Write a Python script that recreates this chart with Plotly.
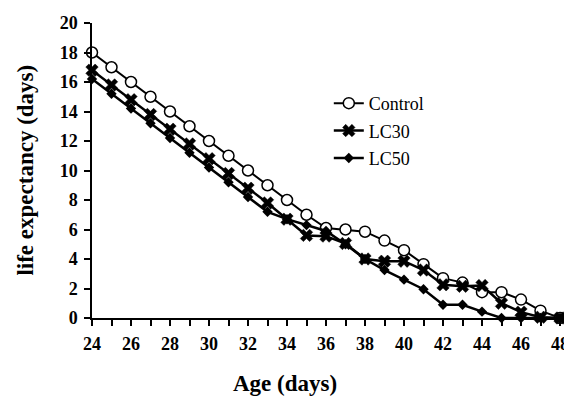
import plotly.graph_objects as go

days = list(range(24, 49))
control = [18, 17, 16, 15, 14, 13, 12, 11, 10, 9, 8, 7, 6.1, 6.0, 5.85, 5.25, 4.6, 3.65, 2.7, 2.4, 1.75, 1.75, 1.25, 0.5, 0]
lc30 = [16.8, 15.8, 14.8, 13.8, 12.8, 11.8, 10.8, 9.8, 8.8, 7.8, 6.7, 5.6, 5.55, 5.05, 4.0, 3.85, 3.85, 3.25, 2.25, 2.15, 2.2, 1.0, 0.4, 0.05, 0]
lc50 = [16.2, 15.2, 14.2, 13.2, 12.2, 11.2, 10.2, 9.2, 8.2, 7.2, 6.7, 6.3, 5.9, 5.0, 4.0, 3.25, 2.6, 1.95, 0.9, 0.9, 0.43, 0, 0, 0, 0]

x_ticks = list(range(24, 49, 2))
y_ticks = list(range(0, 21, 2))
x_labels = [f"<b>{v}</b>" for v in x_ticks]
y_labels = [f"<b>{v}</b>" for v in y_ticks]

FONT = "Times New Roman"

fig = go.Figure()
fig.add_trace(go.Scatter(
    x=days, y=control, name="Control", mode="lines+markers", legendgroup="a",
    line=dict(color="black", width=2),
    marker=dict(symbol="circle", size=11, color="white", line=dict(color="black", width=1.5)),
    cliponaxis=False))
fig.add_trace(go.Scatter(
    x=days, y=lc30, name="LC30", mode="lines+markers", legendgroup="b",
    line=dict(color="black", width=2.5),
    marker=dict(symbol="x", size=11, color="black", line=dict(color="black", width=0.5)),
    cliponaxis=False))
fig.add_trace(go.Scatter(
    x=days, y=lc50, name="LC50", mode="lines+markers", legendgroup="c",
    line=dict(color="black", width=2.5),
    marker=dict(symbol="diamond", size=8, color="black"),
    cliponaxis=False))

# page body has an 8px default margin, so the figure is drawn 8px smaller and shifted
fig.update_layout(
    width=564, height=391,
    margin=dict(l=84, r=12, t=15, b=81),
    paper_bgcolor="white", plot_bgcolor="white",
    font=dict(family=FONT, color="black"),
    showlegend=True,
    legend=dict(x=0.506, y=0.79, xanchor="left", yanchor="top",
                font=dict(family=FONT, size=18, color="black"),
                bgcolor="rgba(0,0,0,0)", tracegroupgap=1),
    xaxis=dict(range=[24, 48], tickvals=x_ticks, ticktext=x_labels, ticks="outside", ticklen=6, tickwidth=1.5,
               tickcolor="black", showline=True, linecolor="black", linewidth=1.5,
               showgrid=False, zeroline=False, automargin=False, ticklabelstandoff=3,
               tickfont=dict(family=FONT, size=18, color="black"),
               minor=dict(dtick=1, ticks="outside", ticklen=6, tickwidth=1.5, tickcolor="black", showgrid=False)),
    yaxis=dict(range=[0, 20], tickvals=y_ticks, ticktext=y_labels, ticks="outside", ticklen=6, tickwidth=1.5,
               tickcolor="black", showline=True, linecolor="black", linewidth=1.5,
               showgrid=False, zeroline=False, automargin=False, ticklabelstandoff=3,
               tickfont=dict(family=FONT, size=18, color="black")),
    annotations=[
        dict(text="<b>Age (days)</b>", xref="paper", yref="paper", x=0.412, y=-0.222,
             xanchor="center", yanchor="middle", showarrow=False,
             font=dict(family=FONT, size=23, color="black")),
        dict(text="<b>life expectancy (days)</b>", xref="paper", yref="paper", x=-0.143, y=0.5,
             xanchor="center", yanchor="middle", showarrow=False, textangle=-90,
             font=dict(family=FONT, size=23, color="black")),
    ],
)

fig.write_html("out.html")
